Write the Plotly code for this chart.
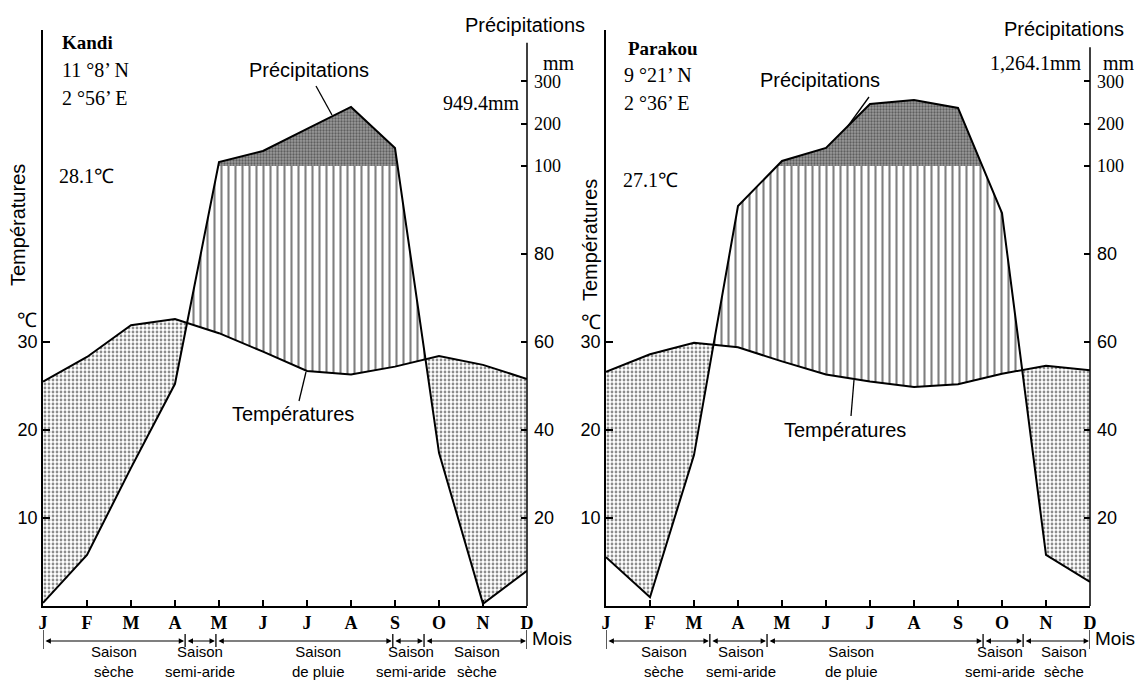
import numpy as np
import plotly.graph_objects as go

# ---------------- data ----------------
months = ["J", "F", "M", "A", "M", "J", "J", "A", "S", "O", "N", "D"]
kandi_temp = [25.5, 28.3, 31.9, 32.6, 31.0, 28.9, 26.7, 26.3, 27.2, 28.4, 27.4, 25.8]
kandi_prec = [0.7, 11.6, 31.4, 50.5, 109.5, 135.5, 187.6, 239.7, 142.6, 34.8, 0.5, 8.0]
parakou_temp = [26.6, 28.6, 29.9, 29.4, 27.8, 26.3, 25.5, 24.9, 25.2, 26.4, 27.3, 26.8]
parakou_prec = [11.1, 2.0, 34.3, 90.9, 111.8, 142.6, 246.8, 256.3, 237.3, 89.3, 11.6, 5.5]
temp_ticks = [10, 20, 30]
prec_ticks = [20, 40, 60, 80, 100, 200, 300]
season_names = ["Saison<br>sèche", "Saison<br>semi-aride", "Saison<br>de pluie",
                "Saison<br>semi-aride", "Saison<br>sèche"]
kandi_bounds = [0, 3.23, 3.93, 7.95, 8.66, 11]
kandi_label_pos = [1.61, 3.57, 6.25, 8.36, 9.86]
parakou_bounds = [0, 2.36, 3.66, 8.57, 9.48, 11]
parakou_label_pos = [1.32, 3.07, 5.57, 8.95, 10.4]

W, H = 1137, 682
SERIF = "Liberation Serif"
SANS = "Liberation Sans"
YTOP = 65.45


def pscale(p):
    """Walter-Lieth scale: 20 mm = 10 degC up to 100 mm, compressed above."""
    p = np.asarray(p, dtype=float)
    return np.where(p <= 100, p / 2.0, 50 + (p - 100) * 0.048)


def densify(temp, prec):
    x0 = np.arange(12, dtype=float)
    T = np.asarray(temp, dtype=float)
    P = pscale(prec)
    xs = list(x0)
    for d in (T - P, P - 50):
        for i in range(11):
            if d[i] * d[i + 1] < 0:
                xs.append(i + d[i] / (d[i] - d[i + 1]))
    xs = np.sort(np.array(xs))
    return xs, np.interp(xs, x0, T), np.interp(xs, x0, P)


fig = go.Figure()

dry_pat = dict(shape=".", fgcolor="#1a1a1a", bgcolor="white", size=4, solidity=0.38)
hum_pat = dict(shape="|", fgcolor="black", bgcolor="white", size=7, solidity=0.3)
wet_pat = dict(shape=".", fgcolor="#222222", bgcolor="#9a9a9a", size=3, solidity=0.45)

for temp, prec, xa, ya, ya2 in [(kandi_temp, kandi_prec, "x", "y", "y3"),
                                (parakou_temp, parakou_prec, "x2", "y2", "y4")]:
    xs, T, P = densify(temp, prec)
    nl = dict(width=0)
    # dry period (temperature above precipitation)
    fig.add_trace(go.Scatter(x=xs, y=np.minimum(T, P), mode="lines", line=nl,
                             xaxis=xa, yaxis=ya, showlegend=False, hoverinfo="skip"))
    fig.add_trace(go.Scatter(x=xs, y=T, mode="lines", line=nl, fill="tonexty",
                             fillcolor="rgba(0,0,0,0)", fillpattern=dry_pat,
                             xaxis=xa, yaxis=ya, showlegend=False, hoverinfo="skip"))
    # humid period up to 100 mm
    fig.add_trace(go.Scatter(x=xs, y=T, mode="lines", line=nl,
                             xaxis=xa, yaxis=ya, showlegend=False, hoverinfo="skip"))
    fig.add_trace(go.Scatter(x=xs, y=np.maximum(T, np.minimum(P, 50)), mode="lines", line=nl,
                             fill="tonexty", fillcolor="rgba(0,0,0,0)", fillpattern=hum_pat,
                             xaxis=xa, yaxis=ya, showlegend=False, hoverinfo="skip"))
    # per-humid period above 100 mm
    fig.add_trace(go.Scatter(x=xs, y=np.full_like(xs, 50.0), mode="lines", line=nl,
                             xaxis=xa, yaxis=ya, showlegend=False, hoverinfo="skip"))
    fig.add_trace(go.Scatter(x=xs, y=np.maximum(P, 50), mode="lines", line=nl,
                             fill="tonexty", fillcolor="rgba(0,0,0,0)", fillpattern=wet_pat,
                             xaxis=xa, yaxis=ya, showlegend=False, hoverinfo="skip"))
    # curves
    fig.add_trace(go.Scatter(x=np.arange(12), y=temp, mode="lines",
                             line=dict(color="black", width=2),
                             xaxis=xa, yaxis=ya, showlegend=False))
    fig.add_trace(go.Scatter(x=np.arange(12), y=pscale(prec), mode="lines",
                             line=dict(color="black", width=2),
                             xaxis=xa, yaxis=ya2, showlegend=False))

prec_tick_text = [str(v) if v < 100 else f'<span style="font-family:{SERIF}">{v}</span>'
                  for v in prec_ticks]

xcommon = dict(range=[0, 11], tickvals=list(range(12)), ticktext=months,
               ticks="inside", ticklen=6, tickwidth=1.5, tickcolor="black",
               showline=True, linecolor="black", linewidth=1.5, showgrid=False,
               zeroline=False, automargin=False,
               tickfont=dict(family=SERIF, size=18, color="black", weight="bold"),
               fixedrange=True)
ycommon = dict(range=[0, YTOP], domain=[0.1114, 0.956], showgrid=False, zeroline=False,
               ticks="inside", ticklen=7, tickwidth=1.5, tickcolor="black", automargin=False,
               tickfont=dict(family=SANS, size=18, color="black"), fixedrange=True)
yleft = dict(ycommon, tickvals=temp_ticks, ticktext=[str(v) for v in temp_ticks],
             showline=True, linecolor="black", linewidth=1.5, side="left")
yright = dict(ycommon, tickvals=list(pscale(prec_ticks)), ticktext=prec_tick_text,
              showline=False, side="right", ticklen=6, ticklabelstandoff=6)

fig.update_layout(
    width=W, height=H, margin=dict(l=0, r=0, t=0, b=0, autoexpand=False),
    paper_bgcolor="white", plot_bgcolor="white", showlegend=False,
    xaxis=dict(xcommon, domain=[43 / W, 527 / W], anchor="y"),
    xaxis2=dict(xcommon, domain=[606 / W, 1090 / W], anchor="y2"),
    yaxis=dict(yleft, anchor="x"),
    yaxis2=dict(yleft, anchor="x2"),
    yaxis3=dict(yright, anchor="x", overlaying="y"),
    yaxis4=dict(yright, anchor="x2", overlaying="y2"),
)


def px(x, y):
    return x / W, 1 - y / H


annotations = []
shapes = []


def text(t, x, y, family=SANS, size=20, xanchor="center", bold=False, angle=0):
    xx, yy = px(x, y)
    annotations.append(dict(text=t, x=xx, y=yy, xref="paper", yref="paper",
                            xanchor=xanchor, yanchor="middle", showarrow=False,
                            textangle=angle,
                            font=dict(family=family, size=size, color="black",
                                      weight="bold" if bold else "normal")))


def seg(x0, y0, x1, y1, w=1.3):
    a, b = px(x0, y0)
    c, d = px(x1, y1)
    shapes.append(dict(type="line", xref="paper", yref="paper", x0=a, y0=b, x1=c, y1=d,
                       line=dict(color="black", width=w)))


# Kandi panel texts
text("Kandi", 60, 43, SERIF, 19, "left", bold=True)
text("11 °8’ N", 60, 70, SERIF, 20, "left")
text("2 °56’ E", 60, 98, SERIF, 20, "left")
text("28.1℃", 57, 176, SERIF, 20, "left")
text("Précipitations", 309, 70)
text("Températures", 293, 414)
text("949.4mm", 522, 103, SERIF, 20, "right")
text("Précipitations", 525, 25)
text("mm", 541, 63, SERIF, 20, "left")
text("Températures", 18, 225, angle=-90)
text("℃", 27, 320, SERIF, 20)
text("Mois", 530, 638, SANS, 19, "left")
seg(316, 86, 332, 115)
seg(299, 401, 306, 372)

# Parakou panel texts
text("Parakou", 626, 48, SERIF, 19, "left", bold=True)
text("9 °21’ N", 622, 75, SERIF, 20, "left")
text("2 °36’ E", 622, 103, SERIF, 20, "left")
text("27.1℃", 621, 180, SERIF, 20, "left")
text("Précipitations", 820, 80)
text("Températures", 845, 430)
text("1,264.1mm", 1084, 63, SERIF, 20, "right")
text("Précipitations", 1064, 29)
text("mm", 1101, 63, SERIF, 20, "left")
text("Températures", 590, 240, angle=-90)
text("℃", 591, 322, SERIF, 20)
text("Mois", 1093, 638, SANS, 19, "left")
seg(869, 97, 848, 126)
seg(851, 416, 854, 380)

# right axis lines (shorter than the left ones)
shapes.append(dict(type="line", xref="x domain", yref="y", x0=1, x1=1, y0=0, y1=64.0,
                   line=dict(color="black", width=1.5)))
shapes.append(dict(type="line", xref="x2 domain", yref="y2", x0=1, x1=1, y0=0, y1=63.5,
                   line=dict(color="black", width=1.5)))

# season bars
ybar = 1 - 641 / H
for bounds, lpos, xa in [(kandi_bounds, kandi_label_pos, "x"),
                         (parakou_bounds, parakou_label_pos, "x2")]:
    for i, b in enumerate(bounds):
        end = i in (0, len(bounds) - 1)
        shapes.append(dict(type="line", xref=xa, yref="paper", x0=b, x1=b,
                           y0=1 - (649 if end else 647) / H, y1=1 - (630 if end else 634) / H,
                           line=dict(color="black", width=1.3)))
    for i in range(len(bounds) - 1):
        annotations.append(dict(text="", x=bounds[i + 1], y=ybar, xref=xa, yref="paper",
                                ax=bounds[i], axref=xa, ay=0, ayref="pixel",
                                showarrow=True, arrowhead=2, arrowside="end+start",
                                arrowsize=0.9, arrowwidth=1.2, arrowcolor="black",
                                standoff=1, startstandoff=1))
    for name, lp in zip(season_names, lpos):
        annotations.append(dict(text=name, x=lp, y=1 - 661 / H, xref=xa, yref="paper",
                                xanchor="center", yanchor="middle", showarrow=False,
                                font=dict(family=SANS, size=15, color="black")))

fig.update_layout(annotations=annotations, shapes=shapes)
fig.write_html("out.html", config={"displayModeBar": False},
               post_script="document.body.style.margin='0';document.body.style.overflow='hidden';")
